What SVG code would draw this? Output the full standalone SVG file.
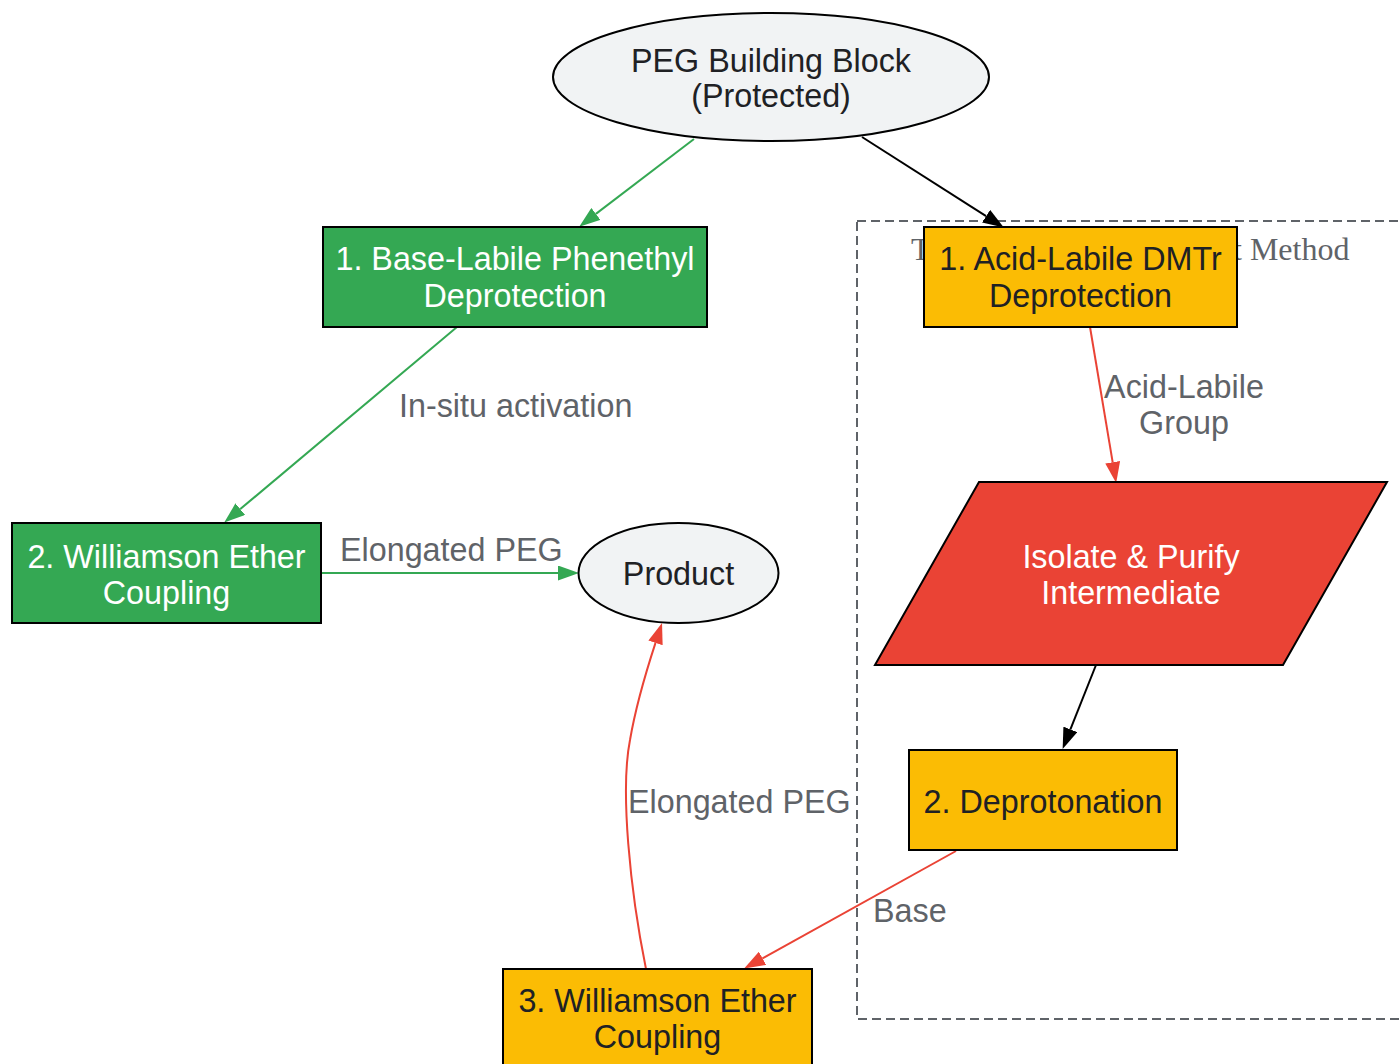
<svg xmlns="http://www.w3.org/2000/svg" width="1400" height="1064" viewBox="0 0 1400 1064">
<style>
text{font-family:"Liberation Sans",Arial,sans-serif;font-size:32.3px;text-anchor:middle}
.dark{fill:#202124}
.white{fill:#ffffff}
.lbl{fill:#5f6368;text-anchor:start}
.node{stroke:#000;stroke-width:2}
.e{fill:none;stroke-width:2}
</style>
<defs>
<marker id="ag" markerUnits="userSpaceOnUse" markerWidth="21" markerHeight="15" refX="0" refY="7.5" orient="auto"><path d="M0,0 L21,7.5 L0,15 z" fill="#34a853"/></marker>
<marker id="ar" markerUnits="userSpaceOnUse" markerWidth="21" markerHeight="15" refX="0" refY="7.5" orient="auto"><path d="M0,0 L21,7.5 L0,15 z" fill="#ea4335"/></marker>
<marker id="ak" markerUnits="userSpaceOnUse" markerWidth="21" markerHeight="15" refX="0" refY="7.5" orient="auto"><path d="M0,0 L21,7.5 L0,15 z" fill="#000"/></marker>
</defs>
<rect width="1400" height="1064" fill="#fff"/>
<g id="cluster">
<rect x="857" y="221" width="600" height="798" fill="none" stroke="#5f6368" stroke-width="2" stroke-dasharray="9,5"/>
<text x="911" y="260" style="font-family:'Liberation Serif','Times New Roman',serif;font-size:32px;fill:#5f6368;text-anchor:start">Traditional Multi-Po<tspan x="1233">t Method</tspan></text>
</g>
<g id="connectors">
<path class="e" stroke="#34a853" d="M694,139 L595.9,213.9" marker-end="url(#ag)"/>
<path class="e" stroke="#000" d="M862,137 L986.1,216.2" marker-end="url(#ak)"/>
<path class="e" stroke="#34a853" d="M457,327 L240.3,509.1" marker-end="url(#ag)"/>
<path class="e" stroke="#34a853" d="M321,573 L558,573" marker-end="url(#ag)"/>
<path class="e" stroke="#ea4335" d="M1090,327 L1112.7,462.3" marker-end="url(#ar)"/>
<path class="e" stroke="#000" d="M1096,665 L1070.4,729.4" marker-end="url(#ak)"/>
<path class="e" stroke="#ea4335" d="M956,851 L762.5,958.3" marker-end="url(#ar)"/>
<path class="e" stroke="#ea4335" d="M646,969 C630,890 620,790 630,740 C636,705 645,675 655.5,642.9" marker-end="url(#ar)"/>
<text class="lbl" x="399" y="417">In-situ activation</text>
<text class="lbl" x="340" y="561">Elongated PEG</text>
<text class="lbl" x="1184" y="398" style="text-anchor:middle">Acid-Labile</text>
<text class="lbl" x="1184" y="434" style="text-anchor:middle">Group</text>
<text class="lbl" x="628" y="813">Elongated PEG</text>
<text class="lbl" x="873" y="922">Base</text>
</g>
<g id="peg">
<ellipse class="node" cx="771" cy="77" rx="218" ry="64" fill="#f1f3f4"/>
<text class="dark" x="771" y="72">PEG Building Block</text>
<text class="dark" x="771" y="107">(Protected)</text>
</g>
<g id="base1">
<rect class="node" x="323" y="227" width="384" height="100" fill="#34a853"/>
<text class="white" x="515" y="270">1. Base-Labile Phenethyl</text>
<text class="white" x="515" y="307">Deprotection</text>
</g>
<g id="base2">
<rect class="node" x="12" y="523" width="309" height="100" fill="#34a853"/>
<text class="white" x="166.5" y="568">2. Williamson Ether</text>
<text class="white" x="166.5" y="604">Coupling</text>
</g>
<g id="product">
<ellipse class="node" cx="678.5" cy="573" rx="100" ry="50" fill="#f1f3f4"/>
<text class="dark" x="678.5" y="585">Product</text>
</g>
<g id="acid1">
<rect class="node" x="924" y="227" width="313" height="100" fill="#fbbc04"/>
<text class="dark" x="1080.5" y="270">1. Acid-Labile DMTr</text>
<text class="dark" x="1080.5" y="307">Deprotection</text>
</g>
<g id="isolate">
<polygon class="node" points="979,482 1387,482 1283,665 875,665" fill="#ea4335"/>
<text class="white" x="1131" y="568">Isolate &amp; Purify</text>
<text class="white" x="1131" y="604">Intermediate</text>
</g>
<g id="acid2">
<rect class="node" x="909" y="750" width="268" height="100" fill="#fbbc04"/>
<text class="dark" x="1043" y="813">2. Deprotonation</text>
</g>
<g id="acid3">
<rect class="node" x="503" y="969" width="309" height="100" fill="#fbbc04"/>
<text class="dark" x="657.5" y="1012">3. Williamson Ether</text>
<text class="dark" x="657.5" y="1048">Coupling</text>
</g>
</svg>
